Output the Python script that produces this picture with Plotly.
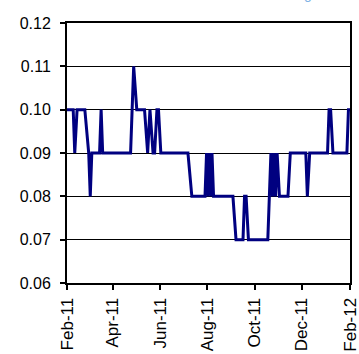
import plotly.graph_objects as go

# Observation dates and rate values (stepwise series)
dates = [
    "2011-02-01", "2011-02-09", "2011-02-11", "2011-02-14", "2011-02-24",
    "2011-03-01", "2011-03-03", "2011-03-05", "2011-03-15", "2011-03-17",
    "2011-03-19", "2011-04-24", "2011-04-28", "2011-05-02", "2011-05-12",
    "2011-05-16", "2011-05-19", "2011-05-23", "2011-05-25", "2011-05-28",
    "2011-05-30", "2011-06-02", "2011-07-07", "2011-07-12", "2011-07-29",
    "2011-07-31", "2011-08-02", "2011-08-04", "2011-08-06", "2011-08-07",
    "2011-08-09", "2011-09-03", "2011-09-07", "2011-09-16", "2011-09-18",
    "2011-09-20", "2011-09-23", "2011-10-18", "2011-10-20", "2011-10-22",
    "2011-10-24", "2011-10-26", "2011-10-28", "2011-10-30", "2011-11-02",
    "2011-11-13", "2011-11-16", "2011-12-06", "2011-12-08", "2011-12-11",
    "2012-01-03", "2012-01-05", "2012-01-07", "2012-01-10", "2012-01-28",
    "2012-01-30", "2012-02-01",
]
rates = [
    0.10, 0.10, 0.09, 0.10, 0.10,
    0.09, 0.08, 0.09, 0.09, 0.10,
    0.09, 0.09, 0.11, 0.10, 0.10,
    0.09, 0.10, 0.09, 0.09, 0.10,
    0.10, 0.09, 0.09, 0.08, 0.08,
    0.09, 0.08, 0.09, 0.08, 0.09,
    0.08, 0.08, 0.07, 0.07, 0.08,
    0.08, 0.07, 0.07, 0.08, 0.09,
    0.08, 0.09, 0.08, 0.09, 0.08,
    0.08, 0.09, 0.09, 0.08, 0.09,
    0.09, 0.10, 0.10, 0.09, 0.09,
    0.10, 0.10,
]

tick_dates = ["2011-02-01", "2011-04-01", "2011-06-01", "2011-08-01",
              "2011-10-01", "2011-12-01", "2012-02-01"]
tick_labels = ["Feb-11", "Apr-11", "Jun-11", "Aug-11", "Oct-11", "Dec-11", "Feb-12"]
y_ticks = [0.06, 0.07, 0.08, 0.09, 0.10, 0.11, 0.12]
y_labels = ["0.06", "0.07", "0.08", "0.09", "0.10", "0.11", "0.12"]

FONT = "Liberation Sans, Arial, sans-serif"
L, R, T, B = 67, 9, 23, 71
W, H = 359, 354

fig = go.Figure()
fig.add_trace(go.Scatter(
    x=dates, y=rates, mode="lines",
    line=dict(color="#000080", width=3),
    showlegend=False,
))

fig.update_layout(
    width=W, height=H,
    margin=dict(l=L, r=R, t=T, b=B, autoexpand=False),
    paper_bgcolor="white", plot_bgcolor="white",
    font=dict(family=FONT, size=17, color="black"),
)

fig.update_xaxes(
    type="date",
    range=["2011-02-01", "2012-02-01"],
    tickvals=tick_dates, ticktext=tick_labels,
    tickangle=-90, automargin=False, ticklabeloverflow="allow",
    ticks="outside", ticklen=5, tickwidth=1.5, tickcolor="black",
    ticklabelstandoff=1,
    showgrid=False, zeroline=False,
    showline=True, linecolor="black", linewidth=2, mirror=True,
    tickfont=dict(family=FONT, size=17, color="black"),
)
fig.update_yaxes(
    range=[0.06, 0.12],
    tickvals=y_ticks, ticktext=y_labels,
    automargin=False, ticklabeloverflow="allow",
    ticks="outside", ticklen=5, tickwidth=1.5, tickcolor="black",
    ticklabelstandoff=6,
    showgrid=True, gridcolor="black", gridwidth=1.2,
    zeroline=False,
    showline=True, linecolor="black", linewidth=2, mirror=True,
    tickfont=dict(family=FONT, size=16, color="black"),
)

# Partially visible heading text at the very top edge
fig.add_annotation(
    x=(308 - L) / (W - L - R), xref="paper", y=1, yref="paper",
    text="g", showarrow=False, xanchor="center", yanchor="bottom",
    yshift=19, font=dict(family=FONT, size=14, color="#7fb2e5"),
)

fig.write_html("out.html")
